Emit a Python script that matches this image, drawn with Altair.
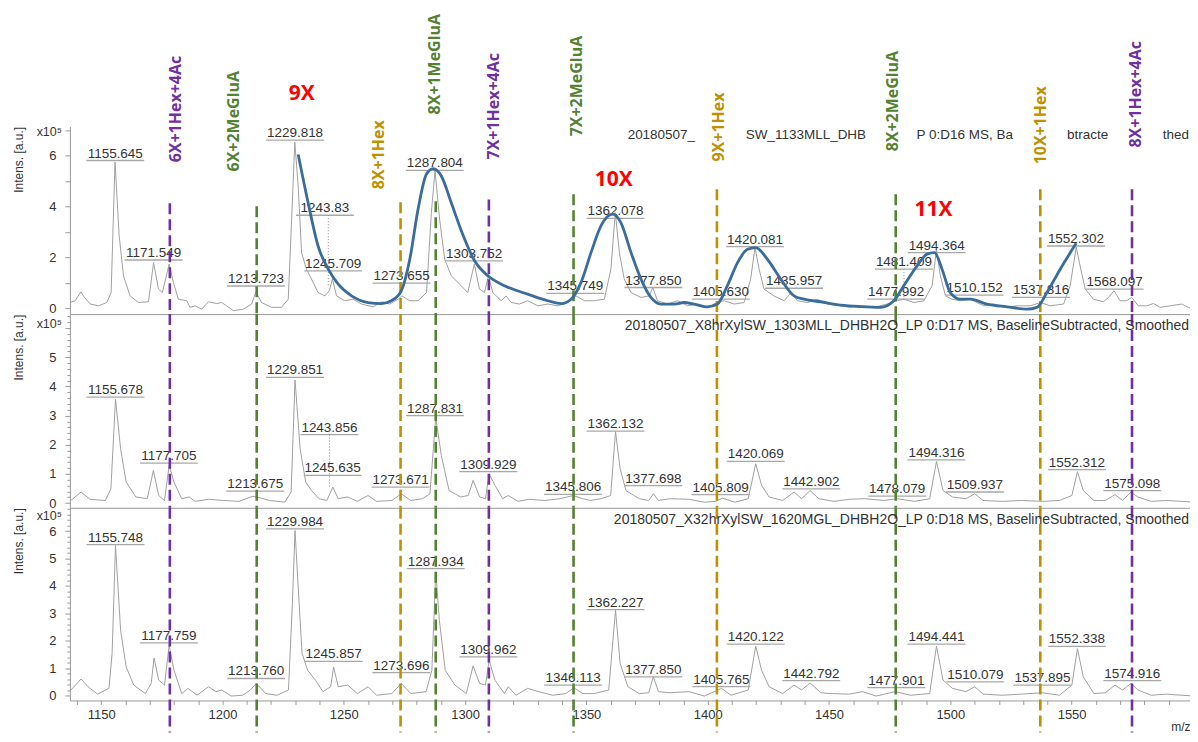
import altair as alt
import pandas as pd

# ---------------- data ----------------
# top spectrum (D16)
top_mz = [1137.2, 1139.3, 1141.6, 1143.1, 1145.5, 1148.9, 1152.3, 1154.1, 1155.7, 1157.4, 1159.2, 1161.9,
          1165.4, 1169.5, 1171.6, 1173.6, 1175.2, 1178.0, 1179.8, 1181.8, 1185.3, 1186.6, 1188.7, 1191.4,
          1194.2, 1197.6, 1199.7, 1201.7, 1204.5, 1208.6, 1212.0, 1213.8, 1216.1, 1220.2, 1224.3, 1227.1,
          1228.5, 1229.8, 1231.2, 1232.6, 1234.6, 1236.7, 1239.4, 1242.2, 1244.0, 1245.3, 1247.0, 1250.4,
          1253.8, 1257.3, 1262.1, 1265.5, 1268.9, 1272.4, 1274.0, 1277.2, 1280.6, 1284.1, 1286.1, 1287.6,
          1289.5, 1291.6, 1294.3, 1298.4, 1301.1, 1303.8, 1305.9, 1308.0, 1309.6, 1311.4, 1314.9, 1316.9,
          1319.0, 1322.4, 1325.8, 1330.0, 1334.1, 1338.2, 1342.3, 1345.7, 1349.2, 1353.3, 1357.4, 1360.1,
          1361.9, 1363.6, 1365.6, 1368.4, 1372.5, 1375.9, 1377.4, 1379.3, 1383.5, 1387.6, 1391.7, 1395.8,
          1399.9, 1403.8, 1406.8, 1410.9, 1415.0, 1417.7, 1419.5, 1421.2, 1423.2, 1427.3, 1431.5, 1434.4,
          1437.0, 1441.1, 1445.2, 1449.3, 1454.8, 1458.9, 1463.0, 1468.5, 1474.0, 1478.1, 1480.8, 1485.0,
          1489.1, 1492.5, 1494.3, 1495.9, 1498.0, 1500.7, 1504.2, 1508.3, 1510.3, 1513.8, 1517.9, 1522.0,
          1527.5, 1533.0, 1537.1, 1541.2, 1546.7, 1549.4, 1551.9, 1553.5, 1555.6, 1559.0, 1563.1, 1565.2,
          1567.5, 1570.0, 1572.7, 1574.8, 1577.5, 1581.0, 1583.7, 1586.5, 1590.6, 1595.4, 1598.1, 1600.9]
top_int = [0.22, 0.29, 0.64, 0.42, 0.16, 0.09, 0.22, 0.61, 5.74, 2.84, 1.27, 0.48,
           0.22, 0.25, 1.79, 0.75, 0.61, 1.73, 1.00, 0.35, 0.29, 0.03, 0.09, -0.04,
           0.25, 0.18, 0.22, 0.09, -0.10, -0.04, 0.16, 0.64, 0.22, 0.03, 0.03, 0.35,
           3.49, 6.52, 4.80, 2.18, 1.53, 1.14, 0.61, 0.48, 0.68, 1.14, 0.48, 0.29,
           0.35, 0.16, 0.05, 0.25, 0.16, 0.35, 0.48, 0.29, 0.29, 0.61, 3.75, 5.40,
           3.49, 1.92, 1.27, 0.88, 0.61, 1.73, 0.75, 0.61, 1.27, 0.61, 0.29, 0.48,
           0.22, 0.16, 0.29, 0.09, 0.16, 0.09, 0.22, 0.48, 0.29, 0.29, 0.35, 1.53,
           3.75, 2.18, 1.14, 0.61, 0.42, 0.48, 0.81, 0.29, 0.16, 0.29, 0.09, 0.16,
           0.03, 0.22, 0.29, 0.16, 0.22, 1.14, 2.38, 1.53, 0.75, 0.48, 0.29, 0.61,
           0.29, 0.22, 0.35, 0.16, 0.09, 0.03, 0.09, 0.03, 0.16, 0.29, 0.35, 0.22,
           0.29, 0.88, 2.31, 1.27, 0.48, 0.35, 0.29, 0.35, 0.25, 0.09, 0.16, 0.03,
           0.09, 0.09, 0.22, 0.09, 0.16, 0.88, 2.40, 1.66, 0.75, 0.35, 0.25, 0.42,
           0.68, 0.29, 0.29, 0.42, 0.09, 0.09, 0.18, 0.03, 0.09, 0.16, 0.03, -0.04]

# middle spectrum (D17)
mid_mz = [1137.5, 1141.7, 1145.4, 1151.7, 1154.0, 1155.9, 1158.0, 1160.3, 1164.3, 1169.0, 1171.5, 1173.7,
          1176.1, 1178.0, 1180.0, 1183.2, 1186.3, 1188.7, 1194.2, 1200.5, 1206.8, 1212.3, 1214.3, 1219.4,
          1225.7, 1228.3, 1229.9, 1232.0, 1234.3, 1236.7, 1239.8, 1243.0, 1245.5, 1247.7, 1251.6, 1255.6,
          1260.0, 1263.5, 1269.8, 1273.7, 1277.6, 1282.4, 1285.5, 1287.9, 1290.2, 1293.4, 1298.1, 1301.3,
          1303.3, 1306.0, 1308.4, 1309.9, 1312.3, 1315.5, 1317.8, 1321.8, 1326.5, 1332.8, 1339.1, 1344.6,
          1348.5, 1351.7, 1356.0, 1360.0, 1362.0, 1363.9, 1366.3, 1371.8, 1375.7, 1377.6, 1379.7, 1384.4,
          1392.3, 1398.6, 1403.3, 1406.1, 1411.2, 1416.7, 1419.8, 1422.2, 1425.3, 1430.9, 1435.6, 1438.7,
          1442.2, 1445.8, 1452.1, 1458.4, 1464.7, 1472.6, 1478.1, 1485.2, 1491.5, 1494.3, 1497.0, 1500.9,
          1506.4, 1510.1, 1513.5, 1521.4, 1529.3, 1537.9, 1545.0, 1550.1, 1552.4, 1554.8, 1559.2, 1563.9,
          1567.9, 1571.0, 1574.5, 1577.3, 1582.8, 1589.1, 1595.4, 1600.9]
mid_int = [0.09, 0.38, 0.13, 0.09, 0.49, 3.57, 1.86, 0.72, 0.21, 0.15, 1.12, 0.26,
           0.09, 1.29, 0.72, 0.15, 0.21, 0.06, 0.13, 0.09, 0.06, 0.23, 0.21, 0.09,
           0.03, 0.38, 4.22, 1.86, 0.72, 0.43, 0.15, 0.09, 0.55, 0.15, 0.21, 0.06,
           0.26, 0.06, 0.09, 0.32, 0.09, 0.15, 0.32, 2.93, 1.63, 0.43, 0.21, 0.26,
           0.78, 0.21, 0.15, 1.00, 0.61, 0.15, 0.26, 0.06, 0.13, 0.09, 0.15, 0.26,
           0.15, 0.09, 0.15, 0.26, 2.45, 1.18, 0.43, 0.15, 0.09, 0.32, 0.09, 0.15,
           0.13, 0.03, 0.06, 0.17, 0.03, 0.15, 1.35, 0.61, 0.21, 0.09, 0.38, 0.15,
           0.43, 0.15, 0.06, 0.13, 0.15, 0.09, 0.15, 0.06, 0.15, 1.43, 0.43, 0.21,
           0.15, 0.32, 0.09, 0.06, 0.09, 0.06, 0.09, 0.26, 1.08, 0.43, 0.09, 0.09,
           0.29, 0.09, 0.38, 0.21, 0.06, 0.09, 0.06, 0.03]

# bottom spectrum (D18)
bot_mz = [1137.5, 1141.7, 1144.6, 1148.5, 1153.2, 1154.5, 1155.9, 1158.0, 1160.3, 1163.4, 1168.2, 1170.6,
          1171.8, 1173.7, 1176.1, 1178.0, 1180.0, 1183.2, 1185.8, 1189.5, 1194.2, 1197.3, 1199.7, 1203.6,
          1208.3, 1211.5, 1213.9, 1217.8, 1222.5, 1227.2, 1228.8, 1229.9, 1231.2, 1232.8, 1235.1, 1238.3,
          1241.4, 1244.6, 1245.8, 1247.7, 1251.6, 1255.6, 1260.0, 1263.5, 1269.8, 1273.7, 1277.6, 1283.9,
          1286.3, 1287.9, 1289.4, 1291.8, 1295.8, 1300.5, 1303.3, 1306.0, 1308.4, 1309.9, 1312.3, 1316.2,
          1317.8, 1321.0, 1325.7, 1330.4, 1336.0, 1341.5, 1344.9, 1348.5, 1353.2, 1359.2, 1362.0, 1363.9,
          1367.1, 1371.8, 1375.7, 1377.6, 1379.7, 1384.4, 1392.3, 1398.6, 1405.7, 1409.6, 1416.7, 1419.8,
          1422.2, 1425.3, 1430.9, 1435.6, 1438.7, 1442.2, 1446.6, 1450.5, 1458.4, 1463.9, 1469.4, 1477.3,
          1483.6, 1491.5, 1494.3, 1497.0, 1500.9, 1506.4, 1510.1, 1513.5, 1521.4, 1529.3, 1537.9, 1545.0,
          1550.1, 1552.4, 1554.8, 1559.2, 1563.9, 1567.9, 1571.0, 1574.5, 1577.3, 1582.8, 1589.1, 1595.4,
          1600.9]
bot_int = [0.21, 0.61, 0.33, 0.06, 0.27, 1.54, 5.48, 2.39, 1.05, 0.39, 0.08, 0.45,
           1.38, 0.57, 0.39, 1.84, 0.93, 0.08, 0.27, 0.02, 0.33, 0.15, 0.21, -0.01,
           0.02, 0.21, 0.45, 0.08, 0.02, 0.21, 3.36, 6.02, 3.96, 1.54, 0.93, 0.57,
           0.15, 0.33, 1.05, 0.33, 0.39, 0.08, 0.33, 0.02, 0.08, 0.45, 0.08, 0.15,
           0.93, 4.51, 2.75, 0.93, 0.39, 0.08, 1.09, 0.45, 0.39, 1.30, 0.57, 0.08,
           0.33, 0.02, 0.27, 0.15, 0.02, 0.08, 0.29, 0.08, 0.08, 0.21, 3.12, 1.18,
           0.33, 0.08, 0.11, 0.69, 0.15, 0.11, 0.15, -0.01, 0.27, 0.02, 0.21, 1.81,
           0.93, 0.33, 0.08, 0.39, 0.21, 0.47, 0.11, 0.08, 0.06, 0.15, -0.01, 0.15,
           0.02, 0.08, 1.81, 0.57, 0.27, 0.15, 0.33, 0.06, 0.02, 0.06, 0.11, 0.02,
           0.39, 1.72, 0.69, 0.08, 0.11, 0.39, 0.21, 0.45, 0.21, 0.02, 0.06, 0.02,
           -0.01]

# blue envelope curve (top panel)
blue_mz = [1231.2, 1235.3, 1239.4, 1243.6, 1247.7, 1253.2, 1260.0, 1265.5, 1269.6, 1273.7, 1277.2, 1280.6,
           1284.0, 1286.8, 1290.2, 1294.3, 1298.4, 1303.9, 1309.4, 1316.2, 1325.8, 1334.1, 1339.6, 1343.7,
           1347.8, 1351.9, 1356.0, 1360.8, 1364.2, 1368.4, 1372.5, 1376.6, 1380.7, 1386.2, 1390.3, 1394.4,
           1399.9, 1404.0, 1408.1, 1412.3, 1416.4, 1419.8, 1424.6, 1430.1, 1435.6, 1439.7, 1446.5, 1454.8,
           1463.0, 1471.2, 1476.7, 1480.8, 1486.3, 1490.4, 1493.5, 1496.6, 1500.0, 1504.2, 1508.3, 1515.1,
           1523.4, 1531.6, 1535.7, 1539.8, 1545.3, 1551.9]
blue_int = [6.04, 4.14, 2.44, 1.53, 0.94, 0.48, 0.22, 0.18, 0.29, 0.68, 1.92, 3.88,
            5.25, 5.48, 5.19, 4.14, 3.05, 1.86, 1.27, 0.88, 0.55, 0.29, 0.18, 0.35,
            1.01, 2.18, 3.23, 3.69, 3.36, 2.18, 1.14, 0.42, 0.16, 0.16, 0.22, 0.16,
            0.05, 0.16, 0.88, 1.79, 2.31, 2.38, 1.92, 1.14, 0.48, 0.35, 0.25, 0.12,
            0.06, 0.03, 0.29, 0.88, 1.66, 2.12, 2.18, 1.53, 0.61, 0.35, 0.35, 0.16,
            0.05, -0.04, 0.03, 0.61, 1.53, 2.55]

# peak labels: text, centre m/z, height of underline (x10^5)
top_lab = ["1155.645", "1171.549", "1213.723", "1229.818", "1243.83", "1245.709", "1273.655", "1287.804",
           "1303.752", "1345.749", "1362.078", "1377.850", "1405.630", "1420.081", "1435.957", "1477.992",
           "1481.409", "1494.364", "1510.152", "1537.816", "1552.302", "1568.097"]
top_lab_mz = [1155.8, 1171.6, 1213.8, 1229.9, 1242.2, 1245.6, 1273.8, 1287.5,
              1303.7, 1345.4, 1362.0, 1377.6, 1405.4, 1419.5, 1435.6, 1477.7,
              1480.9, 1494.4, 1510.0, 1537.4, 1551.8, 1567.7]
top_lab_int = [5.80, 1.89, 0.87, 6.60, 3.65, 1.46, 0.98, 5.41,
               1.86, 0.58, 3.53, 0.81, 0.35, 2.42, 0.78, 0.35,
               1.53, 2.18, 0.51, 0.42, 2.44, 0.75]

mid_lab = ["1155.678", "1177.705", "1213.675", "1229.851", "1243.856", "1245.635", "1273.671", "1287.831",
           "1309.929", "1345.806", "1362.132", "1377.698", "1405.809", "1420.069", "1442.902", "1478.079",
           "1494.316", "1509.937", "1552.312", "1575.098"]
mid_lab_mz = [1155.9, 1177.9, 1213.5, 1229.9, 1244.1, 1245.4, 1273.4, 1287.6,
              1309.6, 1344.5, 1362.0, 1377.6, 1405.3, 1419.8, 1442.7, 1478.1,
              1494.3, 1510.1, 1552.2, 1575.0]
mid_lab_int = [3.63, 1.37, 0.41, 4.31, 2.35, 0.95, 0.55, 3.00,
               1.08, 0.30, 2.47, 0.60, 0.29, 1.43, 0.49, 0.24,
               1.48, 0.38, 1.15, 0.43]

bot_lab = ["1155.748", "1177.759", "1213.760", "1229.984", "1245.857", "1273.696", "1287.934", "1309.962",
           "1346.113", "1362.227", "1377.850", "1405.765", "1420.122", "1442.792", "1477.901", "1494.441",
           "1510.079", "1537.895", "1552.338", "1574.916"]
bot_lab_mz = [1155.9, 1177.9, 1213.9, 1229.9, 1245.8, 1273.7, 1287.9, 1309.6,
              1344.5, 1362.0, 1377.6, 1405.6, 1419.8, 1442.7, 1477.8, 1494.3,
              1510.3, 1538.0, 1552.2, 1575.0]
bot_lab_int = [5.51, 1.93, 0.63, 6.08, 1.25, 0.84, 4.63, 1.42,
               0.39, 3.14, 0.69, 0.33, 1.88, 0.55, 0.30, 1.88,
               0.51, 0.39, 1.80, 0.55]

# dotted leader lines from labels to small peaks (m/z, from, to)
top_lead_mz = [1243.6, 1480.9]
top_lead_from = [3.65, 1.53]
top_lead_to = [0.87, 0.30]
mid_lead_mz = [1244.1]
mid_lead_from = [2.35]
mid_lead_to = [0.55]

# assignment markers (dashed lines)
marker_name = ["6X+1Hex+4Ac", "6X+2MeGluA", "8X+1Hex", "8X+1MeGluA", "7X+1Hex+4Ac",
               "7X+2MeGluA", "9X+1Hex", "8X+2MeGluA", "10X+1Hex", "8X+1Hex+4Ac"]
marker_kind = ["Hex+4Ac", "MeGluA", "Hex", "MeGluA", "Hex+4Ac",
               "MeGluA", "Hex", "MeGluA", "Hex", "Hex+4Ac"]
marker_mz = [1178.3, 1214.1, 1273.4, 1287.9, 1309.8, 1344.7, 1403.8, 1477.5, 1537.1, 1574.9]
marker_top = [4.12, 4.00, 4.16, 4.20, 4.27, 4.47, 4.67, 4.47, 4.67, 4.67]
marker_lab_mz = [1180.7, 1204.6, 1264.7, 1287.7, 1312.0, 1346.1, 1404.6, 1476.2, 1537.5, 1576.6]
marker_lab_int = [5.73, 5.37, 4.67, 7.61, 5.84, 6.75, 5.76, 6.16, 5.65, 6.31]

series_name = ["9X", "10X", "11X"]
series_mz = [1232.7, 1361.3, 1493.1]
series_int = [8.43, 5.02, 3.84]

top_title_parts = ["20180507_", "SW_1133MLL_DHB", "P 0:D16 MS, Ba", "btracte", "thed"]
top_title_mz = [1367.0, 1415.7, 1486.1, 1548.1, 1587.6]
top_title_int = 6.82
mid_title = "20180507_X8hrXylSW_1303MLL_DHBH2O_LP 0:D17 MS, BaselineSubtracted, Smoothed"
bot_title = "20180507_X32hrXylSW_1620MGL_DHBH2O_LP 0:D18 MS, BaselineSubtracted, Smoothed"

x_ticks = list(range(1140, 1591, 10))

# ---------------- style ----------------
X_DOMAIN = [1137.1, 1598.8]
W = 1122
H_TOP, H_MID, H_BOT = 188, 194, 193
Y_TOP = [-0.235, 7.14]
Y_MID = [-0.16, 6.48]
Y_BOT = [-0.17, 6.85]
FONT = "Liberation Sans"
BFONT = "Open Sans"
TXT = "#333333"
AXC = "#9a9a9a"
SPEC = "#a0a0a0"
KINDS = ["Hex+4Ac", "MeGluA", "Hex"]
KIND_COLORS = ["#7030A0", "#548235", "#BF9000"]
color_enc = alt.Color("kind:N", scale=alt.Scale(domain=KINDS, range=KIND_COLORS), legend=None)

xscale = alt.Scale(domain=X_DOMAIN, nice=False, zero=False)


def y_axis(ticks, labels):
    lab = "[" + ",".join(str(v) for v in labels) + "]"
    ints = "abs(datum.value - round(datum.value)) < 0.001"
    return alt.Axis(values=ticks, labelExpr=f"indexof({lab}, datum.value) >= 0 ? format(datum.value, 'd') : ''",
                    labelOverlap=False, grid=False, title="Intens. [a.u.]", titleAnchor="end",
                    titleFont=FONT, titleFontSize=12, titleFontWeight="normal", titleColor=TXT,
                    titlePadding=23, labelFont=FONT, labelFontSize=13, labelColor=TXT, labelPadding=9,
                    domainColor=AXC, tickColor=AXC,
                    tickSize={"condition": {"test": ints, "value": 5}, "value": 3})


x_axis_plain = alt.Axis(labels=False, ticks=False, title=None, grid=False, domainColor=AXC)
x_axis_bottom = alt.Axis(values=x_ticks, labelExpr="datum.value % 50 === 0 ? format(datum.value, 'd') : ''",
                         labelOverlap=False, grid=False, tickSize=4, tickColor=AXC, domainColor=AXC,
                         labelFont=FONT, labelFontSize=13, labelColor=TXT, labelPadding=4,
                         title="m/z", titleAnchor="end", titleFont=FONT, titleFontSize=12,
                         titleFontWeight="normal", titleColor=TXT, titlePadding=0)


def panel(spec_mz, spec_int, lab, lab_mz, lab_int, ydom, height, xaxis, yaxis, scale_y,
          lead=None, rule_kind="full", extra=None):
    ysc = alt.Scale(domain=ydom, nice=False, zero=False)
    X = lambda f: alt.X(f"{f}:Q", scale=xscale, axis=xaxis)
    Y = lambda f: alt.Y(f"{f}:Q", scale=ysc, axis=yaxis)

    spec = alt.Chart(pd.DataFrame({"mz": spec_mz, "v": spec_int})).mark_line(
        color=SPEC, strokeWidth=1, interpolate="linear", clip=True).encode(x=X("mz"), y=Y("v"))

    ldf = pd.DataFrame({"mz": lab_mz, "v": lab_int, "t": lab})
    under = alt.Chart(ldf).mark_rule(color="#a8a8a8", strokeWidth=1.3, xOffset=-29, x2Offset=29).encode(
        x=X("mz"), x2="mz:Q", y=Y("v"))
    text = alt.Chart(ldf).mark_text(font=FONT, fontSize=13.5, color=TXT, baseline="alphabetic", dy=-3).encode(
        x=X("mz"), y=Y("v"), text="t:N")
    layers = [spec, under, text]

    if lead is not None:
        cdf = pd.DataFrame({"mz": lead[0], "v": lead[1], "v2": lead[2]})
        layers.append(alt.Chart(cdf).mark_rule(color="#8a8a8a", strokeWidth=1, strokeDash=[1, 2]).encode(
            x=X("mz"), y=Y("v"), y2="v2:Q"))

    mdf = pd.DataFrame({"mz": marker_mz, "kind": marker_kind, "v": marker_top})
    rule = alt.Chart(mdf).mark_rule(strokeWidth=2.6, strokeDash=[11, 5])
    if rule_kind == "top":
        rule = rule.encode(x=X("mz"), y=Y("v"), y2=alt.value(height), color=color_enc)
    elif rule_kind == "bottom":
        rule = rule.encode(x=X("mz"), y=alt.value(0), y2=alt.value(height + 32), color=color_enc)
    else:
        rule = rule.encode(x=X("mz"), y=alt.value(0), y2=alt.value(height), color=color_enc)
    layers.append(rule)

    if extra:
        layers.extend(extra(X, Y))

    scale_txt = alt.Chart(pd.DataFrame({"t": ["x10\u2075"]})).mark_text(
        font=FONT, fontSize=12.5, color=TXT, align="right", baseline="middle").encode(
        x=alt.value(-8), y=alt.value(scale_y), text="t:N")
    layers.append(scale_txt)
    return alt.layer(*layers).properties(width=W, height=height)


def top_extra(X, Y):
    bdf = pd.DataFrame({"mz": blue_mz, "v": blue_int})
    blue = alt.Chart(bdf).mark_line(color="#3A6C9C", strokeWidth=2.8, interpolate="monotone").encode(
        x=X("mz"), y=Y("v"))
    adf = pd.DataFrame({"mz": marker_lab_mz, "v": marker_lab_int, "t": marker_name, "kind": marker_kind})
    ann = alt.Chart(adf).mark_text(font=BFONT, fontSize=16, fontWeight="bold", angle=270,
                                   align="left", baseline="middle").encode(
        x=X("mz"), y=Y("v"), text="t:N", color=color_enc)
    sdf = pd.DataFrame({"mz": series_mz, "v": series_int, "t": series_name})
    ser = alt.Chart(sdf).mark_text(font=BFONT, fontSize=21, fontWeight="bold", color="#FF0000",
                                   baseline="middle").encode(x=X("mz"), y=Y("v"), text="t:N")
    tdf = pd.DataFrame({"mz": top_title_mz, "v": [top_title_int] * len(top_title_mz), "t": top_title_parts})
    ttl = alt.Chart(tdf).mark_text(font=FONT, fontSize=13.5, color=TXT, align="left", baseline="middle").encode(
        x=X("mz"), y=Y("v"), text="t:N")
    return [blue, ttl, ann, ser]


def title_extra(txt, ypix):
    def f(X, Y):
        return [alt.Chart(pd.DataFrame({"t": [txt]})).mark_text(
            font=FONT, fontSize=14, color=TXT, align="right", baseline="middle").encode(
            x=alt.value(W - 1), y=alt.value(ypix), text="t:N")]
    return f


top = panel(top_mz, top_int, top_lab, top_lab_mz, top_lab_int, Y_TOP, H_TOP, x_axis_plain,
            y_axis(list(range(0, 8)), [0, 2, 4, 6]), 6,
            lead=(top_lead_mz, top_lead_from, top_lead_to), rule_kind="top", extra=top_extra)
mid = panel(mid_mz, mid_int, mid_lab, mid_lab_mz, mid_lab_int, Y_MID, H_MID, x_axis_plain,
            y_axis([round(i * 0.2, 1) for i in range(0, 33)], [0, 1, 2, 3, 4, 5]), 10,
            lead=(mid_lead_mz, mid_lead_from, mid_lead_to), rule_kind="full",
            extra=title_extra(mid_title, 12))
bot = panel(bot_mz, bot_int, bot_lab, bot_lab_mz, bot_lab_int, Y_BOT, H_BOT, x_axis_bottom,
            y_axis([round(i * 0.2, 1) for i in range(0, 35)], [0, 1, 2, 3, 4, 5, 6]), 8,
            rule_kind="bottom", extra=title_extra(bot_title, 12))

chart = alt.vconcat(top, mid, bot, spacing=0, bounds="flush").properties(
    padding={"left": 4, "top": 5, "right": 0, "bottom": 0}, background="white"
).configure_view(stroke=None)

chart.save("out.html", embed_options={"renderer": "svg", "actions": False})
